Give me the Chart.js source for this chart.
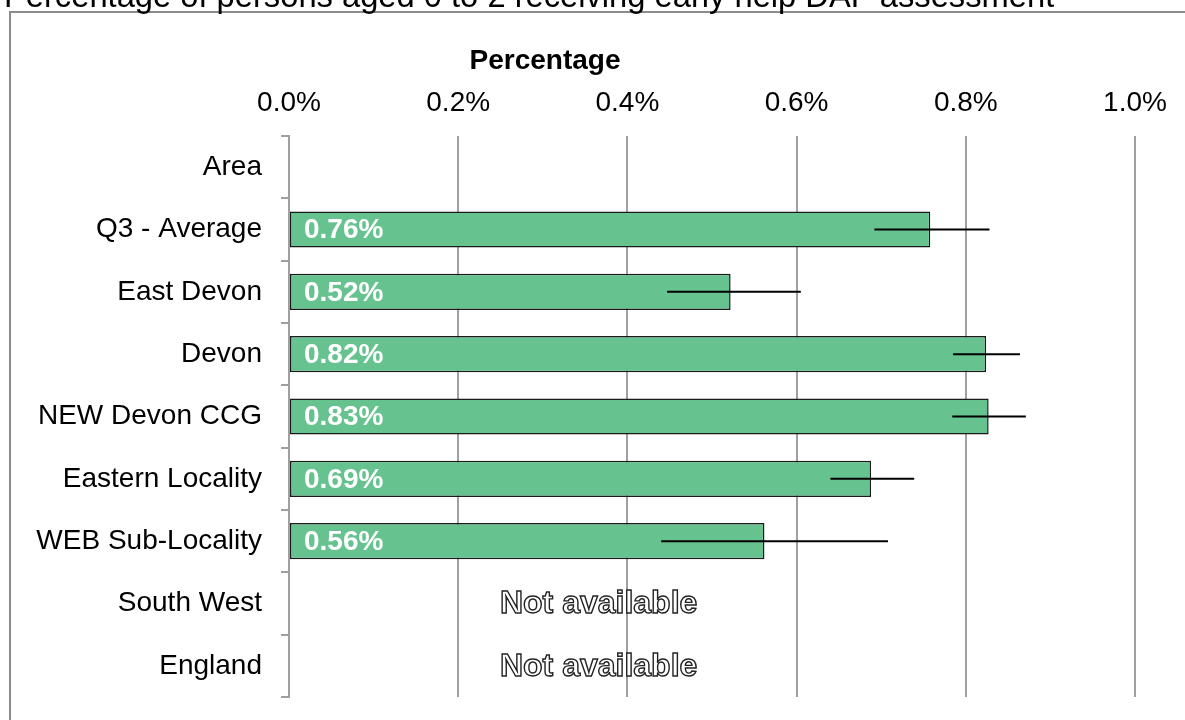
<!DOCTYPE html>
<html>
<head>
<meta charset="utf-8">
<script src="https://cdn.jsdelivr.net/npm/chart.js@4.4.1/dist/chart.umd.min.js"></script>
<style>
html, body { margin: 0; padding: 0; background: #fff; }
#caixa { width: 1185px; height: 720px; position: relative; }
</style>
</head>
<body>
<div id="caixa"><canvas id="grafico"></canvas></div>
<script>
const titulo = 'Percentage of persons aged 0 to 2 receiving early help DAF assessment';
const titulo_eixo = 'Percentage';

const areas = ['Area', 'Q3 - Average', 'East Devon', 'Devon', 'NEW Devon CCG',
    'Eastern Locality', 'WEB Sub-Locality', 'South West', 'England'];
const valores = [null, 0.758, 0.522, 0.824, 0.827, 0.688, 0.562, null, null];
const erro_min = [null, 0.692, 0.447, 0.785, 0.784, 0.640, 0.440, null, null];
const erro_max = [null, 0.828, 0.605, 0.864, 0.871, 0.739, 0.708, null, null];
const sem_dados = ['South West', 'England'];
const ticks_x = [0, 0.2, 0.4, 0.6, 0.8, 1.0];

const fonte = '"Liberation Sans", Arial, sans-serif';
const cinza = '#a0a0a0';

// desenha moldura, titulo, barras de erro e rotulos
const extras = {
    id: 'extras',
    afterDatasetsDraw(chart) {
        const ctx = chart.ctx;
        const x = chart.scales.x;
        const y = chart.scales.y;
        ctx.save();

        // barras de erro
        ctx.strokeStyle = '#000';
        ctx.lineWidth = 2;
        for (let i = 0; i < areas.length; i++) {
            if (erro_min[i] === null) continue;
            const py = y.getPixelForValue(i);
            ctx.beginPath();
            ctx.moveTo(x.getPixelForValue(erro_min[i]), py);
            ctx.lineTo(x.getPixelForValue(erro_max[i]), py);
            ctx.stroke();
        }

        // rotulos dos valores
        ctx.font = 'bold 28px ' + fonte;
        ctx.fillStyle = '#fff';
        ctx.textAlign = 'left';
        ctx.textBaseline = 'middle';
        for (let i = 0; i < areas.length; i++) {
            if (valores[i] === null) continue;
            ctx.fillText(valores[i].toFixed(2) + '%', x.getPixelForValue(0) + 15, y.getPixelForValue(i) + 1);
        }

        // sem dados
        ctx.font = 'bold 32px ' + fonte;
        ctx.textAlign = 'center';
        ctx.lineWidth = 1.4;
        ctx.strokeStyle = '#222';
        sem_dados.forEach(function (nome) {
            const py = y.getPixelForValue(areas.indexOf(nome)) + 1;
            const px = x.getPixelForValue(0.366);
            ctx.fillStyle = '#fff';
            ctx.fillText('Not available', px, py);
            ctx.strokeText('Not available', px, py);
        });
        ctx.restore();
    },
    afterDraw(chart) {
        const ctx = chart.ctx;
        ctx.save();
        // moldura
        ctx.strokeStyle = '#8c8c8c';
        ctx.lineWidth = 2;
        ctx.beginPath();
        ctx.moveTo(10, 720);
        ctx.lineTo(10, 12);
        ctx.lineTo(1185, 12);
        ctx.stroke();

        // titulo cortado no topo
        ctx.fillStyle = '#000';
        ctx.font = '32.7px ' + fonte;
        ctx.textAlign = 'left';
        ctx.textBaseline = 'alphabetic';
        ctx.fillText(titulo, 4, 7);

        // titulo do eixo
        ctx.font = 'bold 28px ' + fonte;
        ctx.textAlign = 'center';
        ctx.fillText(titulo_eixo, 545, 69);
        ctx.restore();
    }
};

const grafico = document.getElementById('grafico');

new Chart(grafico, {
    type: 'bar',
    data: {
        labels: areas,
        datasets: [{
            label: titulo_eixo,
            data: valores,
            backgroundColor: '#66c28e',
            borderColor: '#1a1a1a',
            borderWidth: 1.5,
            borderSkipped: false,
            barPercentage: 0.58,
            categoryPercentage: 1
        }]
    },
    options: {
        indexAxis: 'y',
        responsive: true,
        maintainAspectRatio: false,
        animation: false,
        devicePixelRatio: 1,
        layout: {
            padding: { left: 0, top: 0, right: 50, bottom: 23 }
        },
        plugins: {
            legend: { display: false },
            tooltip: { enabled: false }
        },
        scales: {
            x: {
                position: 'top',
                min: 0,
                max: 1,
                afterBuildTicks: function (scale) {
                    scale.ticks = ticks_x.map(function (v) { return { value: v }; });
                },
                afterFit: function (scale) {
                    scale.height = 136;
                    scale.paddingLeft = 0;
                    scale.paddingRight = 0;
                },
                ticks: {
                    color: '#000',
                    padding: 16,
                    font: { family: fonte, size: 28 },
                    callback: function (v) { return Number(v).toFixed(1) + '%'; }
                },
                grid: { color: cinza, lineWidth: 2, drawTicks: false },
                border: { display: false }
            },
            y: {
                afterFit: function (scale) {
                    scale.width = 289;
                    scale.paddingTop = 0;
                    scale.paddingBottom = 0;
                },
                ticks: {
                    color: '#000',
                    padding: 19,
                    font: { family: fonte, size: 28 }
                },
                grid: {
                    offset: true,
                    drawOnChartArea: false,
                    drawTicks: true,
                    tickLength: 8,
                    color: cinza,
                    lineWidth: 2
                },
                border: { color: cinza, width: 2 }
            }
        }
    },
    plugins: [extras]
});
</script>
</body>
</html>
